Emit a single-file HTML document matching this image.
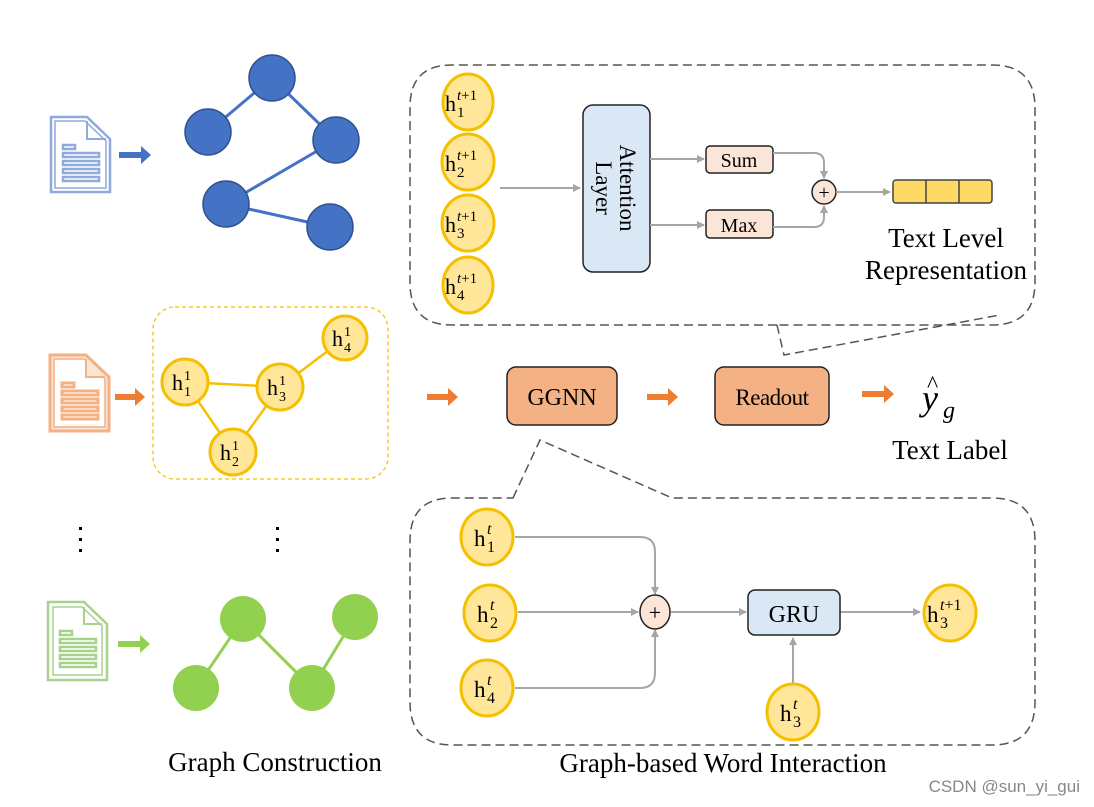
<!DOCTYPE html>
<html><head><meta charset="utf-8"><style>
html,body{margin:0;padding:0;background:#fff;}
svg{display:block;font-family:"Liberation Serif",serif;}
</style></head><body>
<svg width="1094" height="807" viewBox="0 0 1094 807" xmlns="http://www.w3.org/2000/svg">
<defs>
<marker id="ag" markerWidth="8" markerHeight="8" refX="7" refY="4" orient="auto" markerUnits="userSpaceOnUse"><path d="M0,0 L8,4 L0,8 z" fill="#a6a6a6"/></marker>
</defs>

<!-- Top dashed callout -->
<path d="M777,325 L784,355 L1000,315" fill="none" stroke="#555" stroke-width="1.5" stroke-dasharray="9,5"/>
<path d="M777,325 H452 Q410,325 410,283 V107 Q410,65 452,65 H992 Q1035,65 1035,108 V282 Q1035,325 992,325 H777" fill="none" stroke="#555" stroke-width="1.5" stroke-dasharray="9,5"/>

<!-- Bottom dashed callout -->
<path d="M513,498 L540,440 L672,498 H992 Q1035,498 1035,541 V702 Q1035,745 992,745 H452 Q410,745 410,702 V541 Q410,498 452,498 Z" fill="none" stroke="#555" stroke-width="1.5" stroke-dasharray="9,5"/>

<!-- Blue doc -->
<g transform="translate(51,117)" stroke="#8faadc" fill="none" stroke-width="2.5">
<path d="M0,0 H36 L59,22 V75 H0 Z"/><path d="M4,4 H34 L55,24 V71 H4 Z" stroke-width="1.5"/>
<path d="M36,4 V22 H55" stroke-width="2"/>
<rect x="12" y="28" width="12" height="4"/><rect x="12" y="36" width="36" height="4"/><rect x="12" y="44" width="36" height="4"/><rect x="12" y="52" width="36" height="4"/><rect x="12" y="60" width="36" height="4"/>
</g>
<path d="M119,152 H141 V146 L151,155 L141,164 V158 H119 Z" fill="#4472c4"/>
<g stroke="#4472c4" stroke-width="3"><line x1="272" y1="78" x2="208" y2="132"/><line x1="272" y1="78" x2="336" y2="140"/><line x1="336" y1="140" x2="226" y2="204"/><line x1="226" y1="204" x2="330" y2="227"/></g>
<g fill="#4472c4" stroke="#2f528f" stroke-width="1.5"><circle cx="272" cy="78" r="23"/><circle cx="208" cy="132" r="23"/><circle cx="336" cy="140" r="23"/><circle cx="226" cy="204" r="23"/><circle cx="330" cy="227" r="23"/></g>

<!-- Orange doc -->
<g transform="translate(50,355)" stroke="#f4b183" fill="#fff" stroke-width="3">
<path d="M0,0 H36 L59,22 V76 H0 Z" fill="#fbe5d6"/><path d="M4,4 H34 L55,24 V72 H4 Z" stroke-width="1.5" fill="#fff"/>
<path d="M36,4 V22 H55" stroke-width="2" fill="#fbe5d6"/>
<rect x="12" y="28" width="12" height="4"/><rect x="12" y="36" width="36" height="4"/><rect x="12" y="44" width="36" height="4"/><rect x="12" y="52" width="36" height="4"/><rect x="12" y="60" width="36" height="4"/>
</g>
<g fill="#ed7d31">
<path d="M115,394 H135 V388 L145,397 L135,406 V400 H115 Z"/>
<path d="M427,394 H448 V388 L458,397 L448,406 V400 H427 Z"/>
<path d="M647,394 H668 V388 L678,397 L668,406 V400 H647 Z"/>
<path d="M862,391 H884 V385 L894,394 L884,403 V397 H862 Z"/>
</g>
<rect x="153" y="307" width="235" height="172" rx="22" fill="none" stroke="#f5c000" stroke-width="1.2" stroke-dasharray="4,3"/>
<g stroke="#f5c000" stroke-width="2.5"><line x1="185" y1="382" x2="280" y2="387"/><line x1="185" y1="382" x2="233" y2="452"/><line x1="233" y1="452" x2="280" y2="387"/><line x1="280" y1="387" x2="345" y2="338"/></g>
<g fill="#ffe699" stroke="#f5c000" stroke-width="3">
<circle cx="185" cy="382" r="23"/><circle cx="233" cy="452" r="23"/><circle cx="280" cy="387" r="23"/><circle cx="345" cy="338" r="22"/>
</g>
<g font-size="22" fill="#000">
<text x="172" y="390">h</text><text x="184" y="380" font-size="14">1</text><text x="184" y="396" font-size="14">1</text>
<text x="220" y="460">h</text><text x="232" y="450" font-size="14">1</text><text x="232" y="466" font-size="14">2</text>
<text x="267" y="395">h</text><text x="279" y="385" font-size="14">1</text><text x="279" y="401" font-size="14">3</text>
<text x="332" y="346">h</text><text x="344" y="336" font-size="14">1</text><text x="344" y="352" font-size="14">4</text>
</g>

<!-- dots -->
<g fill="#000"><rect x="79" y="527" width="3" height="3"/><rect x="79" y="538" width="3" height="3"/><rect x="79" y="549" width="3" height="3"/>
<rect x="276" y="527" width="3" height="3"/><rect x="276" y="538" width="3" height="3"/><rect x="276" y="549" width="3" height="3"/></g>

<!-- Green doc -->
<g transform="translate(48,602)" stroke="#a9d18e" fill="none" stroke-width="2.5">
<path d="M0,0 H36 L59,22 V78 H0 Z"/><path d="M5,5 H34 L54,24 V73 H5 Z" stroke-width="1.5"/>
<path d="M36,5 V22 H54" stroke-width="2"/>
<rect x="12" y="29" width="12" height="4"/><rect x="12" y="37" width="36" height="4"/><rect x="12" y="45" width="36" height="4"/><rect x="12" y="53" width="36" height="4"/><rect x="12" y="61" width="36" height="4"/>
</g>
<path d="M118,641 H140 V635 L150,644 L140,653 V647 H118 Z" fill="#92d050"/>
<g stroke="#92d050" stroke-width="3"><line x1="243" y1="619" x2="196" y2="688"/><line x1="243" y1="619" x2="312" y2="688"/><line x1="312" y1="688" x2="355" y2="617"/></g>
<g fill="#92d050"><circle cx="243" cy="619" r="23"/><circle cx="355" cy="617" r="23"/><circle cx="196" cy="688" r="23"/><circle cx="312" cy="688" r="23"/></g>

<!-- GGNN / Readout -->
<rect x="507" y="367" width="110" height="58" rx="9" fill="#f4b183" stroke="#222" stroke-width="1.5"/>
<text x="562" y="405" font-size="24" text-anchor="middle">GGNN</text>
<rect x="715" y="367" width="114" height="58" rx="9" fill="#f4b183" stroke="#222" stroke-width="1.5"/>
<text x="772" y="405" font-size="23" text-anchor="middle" letter-spacing="-0.5">Readout</text>
<text x="922" y="410" font-size="36" font-style="italic">y</text>
<text x="927" y="392" font-size="24">^</text>
<text x="943" y="418" font-size="24" font-style="italic">g</text>
<text x="950" y="459" font-size="27" text-anchor="middle">Text Label</text>

<!-- Top callout content -->
<g fill="#ffe699" stroke="#f5c000" stroke-width="3">
<ellipse cx="468" cy="102" rx="25" ry="28"/><ellipse cx="468" cy="162" rx="26" ry="28"/><ellipse cx="468" cy="223" rx="26" ry="28"/><ellipse cx="468" cy="285" rx="25" ry="28"/>
</g>
<g font-size="22">
<text x="445" y="111">h</text><text x="457" y="100" font-size="15"><tspan font-style="italic">t</tspan>+1</text><text x="457" y="117" font-size="15">1</text>
<text x="445" y="171">h</text><text x="457" y="160" font-size="15"><tspan font-style="italic">t</tspan>+1</text><text x="457" y="177" font-size="15">2</text>
<text x="445" y="232">h</text><text x="457" y="221" font-size="15"><tspan font-style="italic">t</tspan>+1</text><text x="457" y="238" font-size="15">3</text>
<text x="445" y="294">h</text><text x="457" y="283" font-size="15"><tspan font-style="italic">t</tspan>+1</text><text x="457" y="300" font-size="15">4</text>
</g>
<line x1="500" y1="188" x2="580" y2="188" stroke="#a6a6a6" stroke-width="2" marker-end="url(#ag)"/>
<rect x="583" y="105" width="67" height="167" rx="10" fill="#dae8f5" stroke="#222" stroke-width="1.5"/>
<text transform="translate(620,188) rotate(90)" font-size="23" text-anchor="middle">Attention</text>
<text transform="translate(596,188) rotate(90)" font-size="23" text-anchor="middle">Layer</text>
<line x1="650" y1="159" x2="704" y2="159" stroke="#a6a6a6" stroke-width="2" marker-end="url(#ag)"/>
<line x1="650" y1="225" x2="704" y2="225" stroke="#a6a6a6" stroke-width="2" marker-end="url(#ag)"/>
<rect x="706" y="146" width="67" height="27" rx="4" fill="#fbe5d6" stroke="#222" stroke-width="1.5"/>
<text x="739" y="167" font-size="20" text-anchor="middle">Sum</text>
<rect x="706" y="210" width="67" height="28" rx="4" fill="#fbe5d6" stroke="#222" stroke-width="1.5"/>
<text x="739" y="232" font-size="20" text-anchor="middle">Max</text>
<path d="M773,153 H814 Q824,153 824,163 V178" fill="none" stroke="#a6a6a6" stroke-width="2" marker-end="url(#ag)"/>
<path d="M773,227 H814 Q824,227 824,217 V206" fill="none" stroke="#a6a6a6" stroke-width="2" marker-end="url(#ag)"/>
<circle cx="824" cy="192" r="12" fill="#fbe5d6" stroke="#222" stroke-width="1.5"/>
<text x="824" y="199" font-size="20" text-anchor="middle">+</text>
<line x1="836" y1="192" x2="890" y2="192" stroke="#a6a6a6" stroke-width="2" marker-end="url(#ag)"/>
<rect x="893" y="180" width="99" height="23" rx="3" fill="#ffd966" stroke="#444" stroke-width="1.5"/>
<line x1="926" y1="180" x2="926" y2="203" stroke="#444" stroke-width="1.5"/><line x1="959" y1="180" x2="959" y2="203" stroke="#444" stroke-width="1.5"/>
<text x="946" y="247" font-size="27" text-anchor="middle">Text Level</text>
<text x="946" y="279" font-size="27" text-anchor="middle">Representation</text>

<!-- Bottom callout content -->
<path d="M515,537 H640 Q655,537 655,552 V594" fill="none" stroke="#a6a6a6" stroke-width="2" marker-end="url(#ag)"/>
<path d="M515,688 H640 Q655,688 655,673 V630" fill="none" stroke="#a6a6a6" stroke-width="2" marker-end="url(#ag)"/>
<line x1="518" y1="612" x2="638" y2="612" stroke="#a6a6a6" stroke-width="2" marker-end="url(#ag)"/>
<line x1="671" y1="612" x2="746" y2="612" stroke="#a6a6a6" stroke-width="2" marker-end="url(#ag)"/>
<line x1="840" y1="612" x2="920" y2="612" stroke="#a6a6a6" stroke-width="2" marker-end="url(#ag)"/>
<line x1="793" y1="684" x2="793" y2="638" stroke="#a6a6a6" stroke-width="2" marker-end="url(#ag)"/>
<ellipse cx="655" cy="612" rx="15" ry="17" fill="#fbe5d6" stroke="#222" stroke-width="1.5"/>
<text x="655" y="620" font-size="22" text-anchor="middle">+</text>
<rect x="748" y="590" width="92" height="45" rx="7" fill="#dae8f5" stroke="#222" stroke-width="1.5"/>
<text x="794" y="622" font-size="24" text-anchor="middle">GRU</text>
<g fill="#ffe699" stroke="#f5c000" stroke-width="3">
<ellipse cx="487" cy="537" rx="26" ry="28"/><ellipse cx="490" cy="613" rx="26" ry="28"/><ellipse cx="487" cy="688" rx="26" ry="28"/><ellipse cx="950" cy="613" rx="26" ry="28"/><ellipse cx="793" cy="712" rx="26" ry="28"/>
</g>
<g font-size="23">
<text x="474" y="546">h</text><text x="487" y="534" font-size="16" font-style="italic">t</text><text x="487" y="552" font-size="16">1</text>
<text x="477" y="622">h</text><text x="490" y="610" font-size="16" font-style="italic">t</text><text x="490" y="628" font-size="16">2</text>
<text x="474" y="697">h</text><text x="487" y="685" font-size="16" font-style="italic">t</text><text x="487" y="703" font-size="16">4</text>
<text x="780" y="721">h</text><text x="793" y="709" font-size="16" font-style="italic">t</text><text x="793" y="727" font-size="16">3</text>
<text x="927" y="622">h</text><text x="940" y="610" font-size="16"><tspan font-style="italic">t</tspan>+1</text><text x="940" y="628" font-size="16">3</text>
</g>

<text x="275" y="771" font-size="27" text-anchor="middle">Graph Construction</text>
<text x="723" y="772" font-size="27" text-anchor="middle">Graph-based Word Interaction</text>
<text x="1080" y="792" font-size="17" fill="#888" text-anchor="end" font-family="Liberation Sans, sans-serif">CSDN @sun_yi_gui</text>
</svg>
</body></html>
